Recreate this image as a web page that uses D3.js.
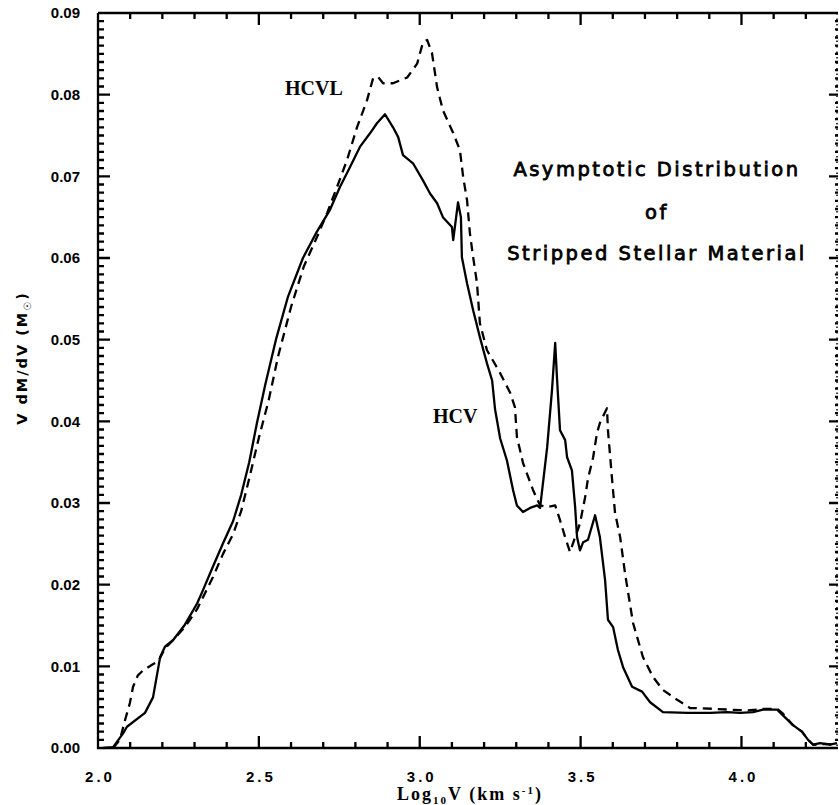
<!DOCTYPE html>
<html>
<head>
<meta charset="utf-8">
<script src="https://cdn.jsdelivr.net/npm/d3@7"></script>
<style>
  body { margin: 0; background: #fff; }
  svg { display: block; background: #fff; }
</style>
</head>
<body>
<svg id="chart" width="839" height="805"></svg>
<script>
// HCV (solid)
const hcvX = [2.016, 2.047, 2.078, 2.090, 2.146, 2.171, 2.193, 2.208, 2.233, 2.270, 2.308, 2.326, 2.357, 2.389, 2.420, 2.445,
  2.470, 2.494, 2.520, 2.553, 2.590, 2.637, 2.680, 2.721, 2.752, 2.783, 2.814, 2.846, 2.867, 2.892, 2.917, 2.933, 2.948,
  2.979, 3.010, 3.032, 3.054, 3.072, 3.100, 3.104, 3.119, 3.128, 3.131, 3.147, 3.166, 3.187, 3.209, 3.225, 3.234, 3.250,
  3.271, 3.290, 3.302, 3.321, 3.343, 3.365, 3.374, 3.396, 3.411, 3.421, 3.427, 3.436, 3.452, 3.458, 3.473, 3.483, 3.489,
  3.498, 3.508, 3.523, 3.545, 3.560, 3.576, 3.585, 3.601, 3.616, 3.632, 3.660, 3.691, 3.716, 3.756, 3.831, 3.902, 3.955,
  3.996, 4.036, 4.067, 4.111, 4.129, 4.160, 4.188, 4.207, 4.223, 4.244, 4.275, 4.297]
const hcvY = [0, 0.0001, 0.0018, 0.0026, 0.0043, 0.0062, 0.0111, 0.0124, 0.0132, 0.0151, 0.0177, 0.0193, 0.0222, 0.0251, 0.0278, 0.0310,
  0.0350, 0.0398, 0.0445, 0.0500, 0.0552, 0.0600, 0.0632, 0.0659, 0.0687, 0.0711, 0.0736, 0.0753, 0.0765, 0.0776, 0.0760, 0.0748, 0.0726,
  0.0716, 0.0695, 0.0679, 0.0667, 0.0650, 0.0638, 0.0622, 0.0668, 0.0650, 0.0601, 0.0569, 0.0536, 0.0503, 0.0471, 0.0450, 0.0415, 0.0379,
  0.0352, 0.0316, 0.0297, 0.0289, 0.0294, 0.0297, 0.0294, 0.0368, 0.0438, 0.0496, 0.0450, 0.0389, 0.0377, 0.0356, 0.0340, 0.0295, 0.0258,
  0.0242, 0.0252, 0.0255, 0.0285, 0.0258, 0.0206, 0.0157, 0.0148, 0.0120, 0.0099, 0.0075, 0.0069, 0.0056, 0.0044, 0.0043, 0.0043, 0.0044,
  0.0043, 0.0044, 0.0047, 0.0047, 0.0040, 0.0028, 0.0020, 0.0010, 0.0004, 0.0006, 0.0004, 0.0006]

// HCVL (dashed)
const hcvlX = [2.047, 2.068, 2.084, 2.099, 2.109, 2.124, 2.140, 2.168, 2.187, 2.208, 2.233, 2.270, 2.308, 2.357, 2.389, 2.420, 2.445,
  2.470, 2.500, 2.530, 2.560, 2.600, 2.640, 2.680, 2.712, 2.743, 2.774, 2.805, 2.836, 2.855, 2.870, 2.886, 2.917, 2.961, 2.992,
  3.010, 3.023, 3.038, 3.054, 3.072, 3.104, 3.125, 3.135, 3.147, 3.156, 3.166, 3.178, 3.187, 3.209, 3.240, 3.250, 3.281, 3.296,
  3.302, 3.321, 3.352, 3.374, 3.396, 3.421, 3.436, 3.452, 3.467, 3.498, 3.514, 3.523, 3.539, 3.551, 3.560, 3.582, 3.585, 3.598,
  3.607, 3.623, 3.638, 3.663, 3.694, 3.725, 3.756, 3.800, 3.840, 3.912, 3.960, 4.020, 4.070, 4.111, 4.129, 4.160, 4.188, 4.207,
  4.223, 4.260, 4.297]
const hcvlY = [0, 0.0010, 0.0034, 0.0055, 0.0075, 0.0089, 0.0095, 0.0102, 0.0106, 0.0122, 0.0132, 0.0148, 0.0170, 0.0209, 0.0238, 0.0262, 0.0290,
  0.0330, 0.0380, 0.0425, 0.0480, 0.0540, 0.0590, 0.0625, 0.0655, 0.0687, 0.0720, 0.0760, 0.0793, 0.0820, 0.0822, 0.0814, 0.0814, 0.0821, 0.0838,
  0.0864, 0.0867, 0.0851, 0.0809, 0.0781, 0.0753, 0.0732, 0.0699, 0.0671, 0.0630, 0.0601, 0.0569, 0.0520, 0.0487, 0.0466, 0.0459, 0.0435, 0.0417,
  0.0381, 0.0349, 0.0316, 0.0297, 0.0295, 0.0297, 0.0279, 0.0258, 0.0240, 0.0275, 0.0307, 0.0330, 0.0356, 0.0386, 0.0398, 0.0416, 0.0389, 0.0328,
  0.0288, 0.0258, 0.0214, 0.0153, 0.0111, 0.0087, 0.0071, 0.0059, 0.0049, 0.0048, 0.0047, 0.0046, 0.0048, 0.0048, 0.0042, 0.0028, 0.0020, 0.0010,
  0.0004, 0.0005, 0.0004]

const xMajorTicks = [2.0, 2.5, 3.0, 3.5, 4.0]
const xMinorTicks = [2.1, 2.2, 2.3, 2.4, 2.6, 2.7, 2.8, 2.9, 3.1, 3.2, 3.3, 3.4, 3.6, 3.7, 3.8, 3.9, 4.1, 4.2]
const yMajorTicks = [0, 0.01, 0.02, 0.03, 0.04, 0.05, 0.06, 0.07, 0.08, 0.09]
const yMinorTicks = d3.range(0, 91).filter(d => d % 10 !== 0).map(d => d / 1000)
const noteLines = ['Asymptotic Distribution', 'of', 'Stripped Stellar Material']

const dims = { width: 839, height: 805, left: 98, right: 838, top: 13, bottom: 748 }

const svg = d3.select('#chart')

const xScale = d3.scaleLinear().domain([2.0, 4.3]).range([dims.left, dims.right])
const yScale = d3.scaleLinear().domain([0, 0.09]).range([dims.bottom, dims.top])

const tickFont = 'Liberation Sans, Arial, sans-serif'

// frame and every inward tick in one stroked path
function renderFrameAndTicks() {
  const p = d3.path()
  p.moveTo(dims.left, dims.top)
  p.lineTo(dims.left, dims.bottom)
  p.lineTo(dims.right, dims.bottom)
  p.moveTo(dims.left, dims.top)
  p.lineTo(dims.right, dims.top)

  const addX = (values, len) => values.forEach(v => {
    const x = xScale(v)
    p.moveTo(x, dims.bottom); p.lineTo(x, dims.bottom - len)
    p.moveTo(x, dims.top); p.lineTo(x, dims.top + len)
  })
  const addY = (values, len, rlen) => values.forEach(v => {
    const y = yScale(v)
    p.moveTo(dims.left, y); p.lineTo(dims.left + len, y)
    p.moveTo(dims.right, y); p.lineTo(dims.right - rlen, y)
  })
  addX(xMajorTicks, 12)
  addX(xMinorTicks, 6)
  addY(yMajorTicks, 12, 9)
  addY(yMinorTicks, 6, 3)

  svg.append('path')
    .attr('d', p.toString())
    .attr('fill', 'none')
    .attr('stroke', '#000')
    .attr('stroke-width', 2.3)

  // faint dotted right edge, as in the scan
  svg.append('path')
    .attr('d', `M${dims.right - 1},${dims.top}V${dims.bottom}`)
    .attr('fill', 'none')
    .attr('stroke', '#000')
    .attr('stroke-width', 1.5)
    .attr('stroke-dasharray', '1.5,4')
}

function renderTickLabels() {
  const bottomAxis = svg.append('g')
    .attr('transform', `translate(0,${dims.bottom})`)
    .call(d3.axisBottom(xScale).tickValues(xMajorTicks).tickSize(0).tickPadding(23).tickFormat(d3.format('.1f')))
  bottomAxis.select('.domain').remove()
  bottomAxis.selectAll('.tick line').remove()
  bottomAxis.selectAll('text')
    .attr('font-family', tickFont)
    .attr('font-weight', 'bold')
    .attr('font-size', 15)
    .attr('letter-spacing', 3)
    .attr('dx', 1.5)
    .attr('fill', '#000')

  const leftAxis = svg.append('g')
    .attr('transform', `translate(${dims.left},0)`)
    .call(d3.axisLeft(yScale).tickValues(yMajorTicks).tickSize(0).tickPadding(18).tickFormat(d3.format('.2f')))
  leftAxis.select('.domain').remove()
  leftAxis.selectAll('.tick line').remove()
  leftAxis.selectAll('text')
    .attr('font-family', tickFont)
    .attr('font-weight', 'bold')
    .attr('font-size', 15)
    .attr('fill', '#000')
}

function renderCurve(xs, ys, dashed) {
  const line = d3.line()
    .x(d => xScale(d[0]))
    .y(d => yScale(d[1]))
    .curve(d3.curveLinear)

  svg.append('path')
    .datum(xs.map((x, i) => [x, ys[i]]))
    .attr('d', line)
    .attr('fill', 'none')
    .attr('stroke', '#000')
    .attr('stroke-width', 2.3)
    .attr('stroke-linejoin', 'round')
    .attr('stroke-dasharray', dashed ? '9,6' : null)
}

function renderLabels() {
  // y title
  const yTitle = svg.append('text')
    .attr('transform', 'translate(27,358) rotate(-90)')
    .attr('text-anchor', 'middle')
    .attr('font-family', 'DejaVu Sans, sans-serif')
    .attr('font-weight', 'bold')
    .attr('font-size', 14.5)
    .attr('letter-spacing', 2)
    .attr('fill', '#000')
  yTitle.append('tspan').text('V dM/dV (M')
  yTitle.append('tspan').attr('font-size', 10).attr('dy', 4).text('\u2609')
  yTitle.append('tspan').attr('dy', -4).text(')')

  // x title
  const xTitle = svg.append('text')
    .attr('x', 470)
    .attr('y', 800)
    .attr('text-anchor', 'middle')
    .attr('font-family', 'Liberation Serif, serif')
    .attr('font-weight', 'bold')
    .attr('font-size', 18)
    .attr('letter-spacing', 2)
    .attr('fill', '#000')
  xTitle.append('tspan').text('Log')
  xTitle.append('tspan').attr('font-size', 11).attr('dy', 4).text('10')
  xTitle.append('tspan').attr('dy', -4).text('V (km s')
  xTitle.append('tspan').attr('font-size', 11).attr('dy', -6).text('-1')
  xTitle.append('tspan').attr('dy', 6).text(')')

  // curve names
  svg.append('text')
    .attr('x', 285).attr('y', 95)
    .attr('font-family', 'Liberation Serif, serif')
    .attr('font-weight', 'bold')
    .attr('font-size', 20)
    .attr('fill', '#000')
    .text('HCVL')

  svg.append('text')
    .attr('x', 433).attr('y', 423)
    .attr('font-family', 'Liberation Serif, serif')
    .attr('font-weight', 'bold')
    .attr('font-size', 20)
    .attr('fill', '#000')
    .text('HCV')

  // annotation
  const noteY = [176, 219, 260]
  noteLines.forEach((t, i) => {
    svg.append('text')
      .attr('x', 657).attr('y', noteY[i])
      .attr('text-anchor', 'middle')
      .attr('font-family', 'DejaVu Sans, sans-serif')
      .attr('font-size', 19.5)
      .attr('letter-spacing', 2.5)
      .attr('fill', '#000')
      .attr('stroke', '#000')
      .attr('stroke-width', 0.8)
      .text(t)
  })
}

renderCurve(hcvlX, hcvlY, true)
renderCurve(hcvX, hcvY, false)
renderTickLabels()
renderLabels()
renderFrameAndTicks()
</script>
</body>
</html>
